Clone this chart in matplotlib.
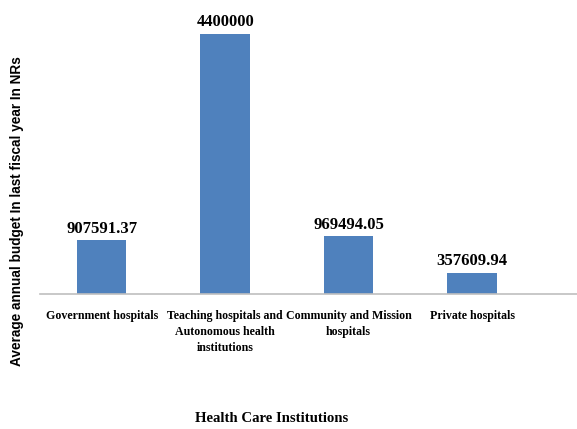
import matplotlib
matplotlib.use('Agg')
from matplotlib import pyplot as plt

## data
categories = ['Government hospitals',
              'Teaching hospitals and\nAutonomous health\ninstitutions',
              'Community and Mission\nhospitals',
              'Private hospitals']
budgets = [907591.37, 4400000, 969494.05, 357609.94]
value_labels = ['907591.37', '4400000', '969494.05', '357609.94']

fig = plt.figure(figsize=(5.77, 4.29), dpi=100)
# axes placed so the baseline sits where it is in the original
ax = fig.add_axes([0.0693, 0.3154, 0.9307, 0.6846])

x = list(range(len(categories)))
ax.bar(x, budgets, width=0.4, color='#4F81BD', zorder=2)

for xi, v, lab in zip(x, budgets, value_labels):
    ax.text(xi, v + 60000, lab, ha='center', va='bottom',
            family='Liberation Serif', fontweight='bold', fontsize=12)

ax.set_xlim(-0.5, 3.85)
ax.set_ylim(0, 4.4e6 * 293.7 / 259.7)

ax.set_xticks(x)
ax.set_xticklabels(categories, family='Liberation Serif', fontweight='bold',
                   fontsize=8.6, linespacing=1.45)
ax.tick_params(axis='x', length=0, pad=12)
ax.set_yticks([])

for s in ['top', 'right', 'left']:
    ax.spines[s].set_visible(False)
ax.spines['bottom'].set_color('#BFBFBF')
ax.spines['bottom'].set_linewidth(1.2)

fig.text(17 / 577, 1 - 211 / 429, 'Average annual budget In last fiscal year In NRs',
         rotation=90, ha='center', va='center', family='Liberation Sans',
         fontweight='bold', fontsize=9.8)
fig.text(272 / 577, 1 - 418 / 429, 'Health Care Institutions',
         ha='center', va='center', family='Liberation Serif',
         fontweight='bold', fontsize=10.6)

fig.savefig('out.png', dpi=100)
